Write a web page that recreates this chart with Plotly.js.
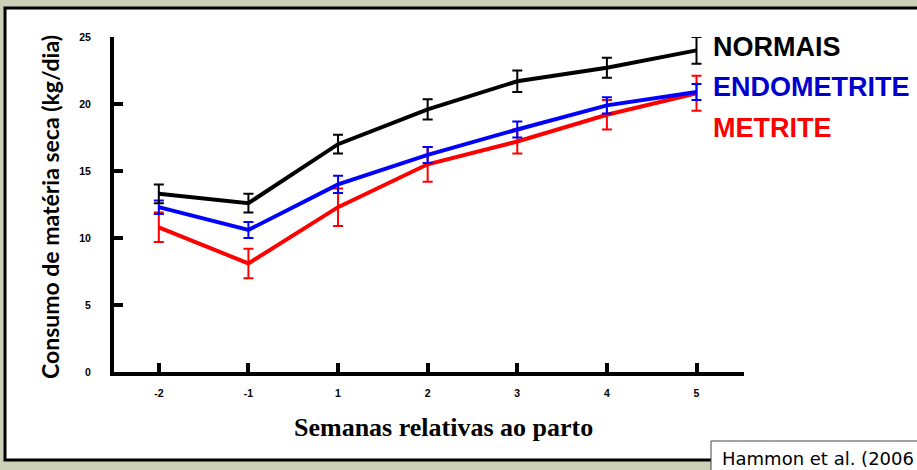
<!DOCTYPE html>
<html>
<head>
<meta charset="utf-8">
<script src="https://cdn.plot.ly/plotly-3.0.1.min.js"></script>
<style>html,body{margin:0;padding:0;background:#ccd0b6;} #chart{width:917px;height:470px;}</style>
</head>
<body>
<div id="chart"></div>
<script>
// Data
const weeks = ['-2', '-1', '1', '2', '3', '4', '5'];
const normais = [13.3, 12.6, 17.0, 19.6, 21.7, 22.7, 24.0];
const normaisErr = [0.7, 0.7, 0.7, 0.75, 0.8, 0.75, 1.0];
const endometrite = [12.3, 10.6, 14.0, 16.2, 18.1, 19.9, 20.9];
const endometriteErr = [0.5, 0.6, 0.65, 0.6, 0.6, 0.6, 0.6];
const metrite = [10.8, 8.1, 12.3, 15.5, 17.2, 19.2, 20.8];
const metriteErr = [1.1, 1.1, 1.4, 1.3, 0.9, 1.1, 1.3];
const yTicks = [0, 5, 10, 15, 20, 25];

const idx = weeks.map((w, i) => i);

function series(name, y, err, color) {
  return {
    type: 'scatter', mode: 'lines', name: name,
    x: idx, y: y,
    line: {color: color, width: 4},
    error_y: {type: 'data', array: err, visible: true, color: color, thickness: 2, width: 5},
    hoverinfo: 'x+y'
  };
}

const data = [
  series('METRITE', metrite, metriteErr, '#ff0000'),
  series('ENDOMETRITE', endometrite, endometriteErr, '#0000ff'),
  series('NORMAIS', normais, normaisErr, '#000000')
];

const L = 114, R = 173, T = 37, B = 98;
const W = 917 - L - R, H = 470 - T - B;
const px = v => (v - L) / W;
const py = v => (470 - B - v) / H;

const tickFont = {family: 'Liberation Sans, Arial, sans-serif', size: 10.5, color: '#000', weight: 'bold'};
const legFont = c => ({family: 'Liberation Sans, Arial, sans-serif', size: 27, color: c, weight: 'bold'});

const layout = {
  width: 917, height: 470,
  margin: {l: L, r: R, t: T, b: B, pad: 0},
  paper_bgcolor: '#ccd0b6',
  plot_bgcolor: 'rgba(0,0,0,0)',
  showlegend: false,
  xaxis: {
    range: [-0.5, 6.53],
    tickvals: idx, ticktext: weeks,
    showline: true, linewidth: 4, linecolor: '#000',
    ticks: 'inside', ticklen: 9, tickwidth: 4, tickcolor: '#000',
    showgrid: false, zeroline: false,
    tickfont: tickFont, ticklabelstandoff: 8
  },
  yaxis: {
    range: [0, 25],
    tickvals: yTicks,
    showline: true, linewidth: 4, linecolor: '#000',
    ticks: 'inside', ticklen: 9, tickwidth: 4, tickcolor: '#000',
    showgrid: false, zeroline: false,
    tickfont: tickFont, ticklabelstandoff: 17
  },
  shapes: [
    {type: 'rect', xref: 'paper', yref: 'paper', layer: 'below',
     x0: px(5), x1: px(935), y0: py(460), y1: py(8),
     fillcolor: '#ffffff', line: {color: '#000', width: 3}},
    {type: 'rect', xref: 'paper', yref: 'paper', layer: 'below',
     x0: px(711), x1: px(935), y0: py(485), y1: py(441),
     fillcolor: '#ffffff', line: {color: '#444', width: 1}}
  ],
  annotations: [
    {text: 'NORMAIS', xref: 'paper', yref: 'paper', x: px(711), y: py(47), xanchor: 'left', yanchor: 'middle', showarrow: false, font: legFont('#000000')},
    {text: 'ENDOMETRITE', xref: 'paper', yref: 'paper', x: px(711), y: py(87), xanchor: 'left', yanchor: 'middle', showarrow: false, font: legFont('#0000cc')},
    {text: 'METRITE', xref: 'paper', yref: 'paper', x: px(711), y: py(128), xanchor: 'left', yanchor: 'middle', showarrow: false, font: legFont('#ff0000')},
    {text: 'Semanas relativas ao parto', xref: 'paper', yref: 'paper', x: px(443), y: py(427), xanchor: 'center', yanchor: 'middle', showarrow: false,
     font: {family: 'Liberation Serif, Times New Roman, serif', size: 26, color: '#000', weight: 'bold'}},
    {text: 'Consumo de matéria seca (kg/dia)', xref: 'paper', yref: 'paper', x: px(50), y: py(207), xanchor: 'center', yanchor: 'middle', textangle: -90, showarrow: false,
     font: {family: 'Lato, Open Sans, sans-serif', size: 23, color: '#000', weight: 'bold'}},
    {text: 'Hammon et al. (2006', xref: 'paper', yref: 'paper', x: px(720), y: py(458), xanchor: 'left', yanchor: 'middle', showarrow: false,
     font: {family: 'DejaVu Sans, sans-serif', size: 18, color: '#000'}}
  ]
};

Plotly.newPlot('chart', data, layout, {displayModeBar: false, staticPlot: true});
</script>
</body>
</html>
